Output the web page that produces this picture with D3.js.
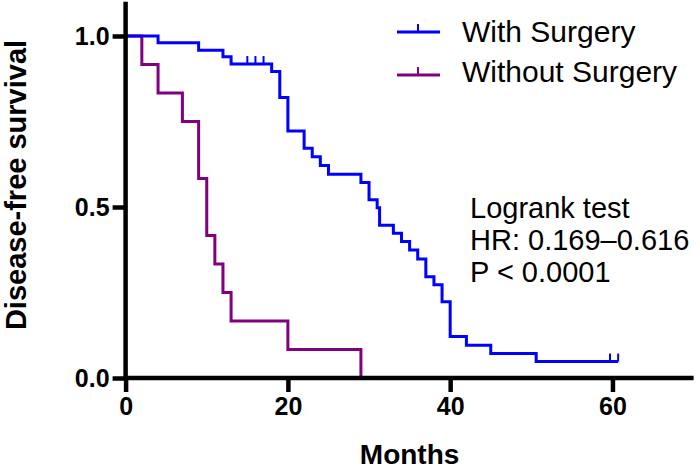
<!DOCTYPE html>
<html>
<head>
<meta charset="utf-8">
<script src="https://cdn.jsdelivr.net/npm/d3@7"></script>
<style>
  html, body { margin: 0; padding: 0; background: #fff; }
  svg { display: block; }
</style>
</head>
<body>
<svg id="chart" width="700" height="471"></svg>
<script>
// ---- data ----
const withTimes = [0, 4, 9, 12, 13, 18, 19, 20, 22, 23, 24, 25, 29, 30, 31, 31.3, 33, 34, 35, 36, 37, 38, 39, 40, 42, 45, 50.6, 60.7];
const withSurv  = [1, 0.98, 0.958, 0.939, 0.918, 0.896, 0.82, 0.722, 0.672, 0.647, 0.621, 0.596, 0.572, 0.521, 0.498, 0.447, 0.423, 0.399, 0.374, 0.348, 0.296, 0.273, 0.223, 0.121, 0.096, 0.072, 0.048, 0.048];
const withCensor = [15, 16, 17, 59.7, 60.7];
const withoutTimes = [0, 2, 4, 7, 9, 10, 11, 12, 13, 20, 29];
const withoutSurv  = [1, 0.917, 0.833, 0.75, 0.583, 0.417, 0.333, 0.25, 0.167, 0.083, 0];
const withoutCensor = [];
const xTicks = [0, 20, 40, 60];
const yTicks = [0, 0.5, 1.0];
const seriesNames = ["With Surgery", "Without Surgery"];
const statsLines = ["Logrank test", "HR: 0.169\u20130.616", "P < 0.0001"];
const xLabel = "Months";
const yLabel = "Disease-free survival";

const colors = ["#0000ff", "#800080"];

const svg = d3.select("#chart");
const x = d3.scaleLinear().domain([0, 70]).range([125.6, 693.6]);
const y = d3.scaleLinear().domain([0, 1]).range([378, 36]);

const boldFont = "'Liberation Sans', Arial, Helvetica, sans-serif";

function survAt(times, surv, t) {
  let v = surv[0];
  for (let i = 0; i < times.length; i++) if (times[i] <= t) v = surv[i];
  return v;
}
const series = [
  { times: withTimes, surv: withSurv, censor: withCensor, color: colors[0] },
  { times: withoutTimes, surv: withoutSurv, censor: withoutCensor, color: colors[1] }
];
const line = d3.line().x(d => x(d[0])).y(d => y(d[1])).curve(d3.curveStepAfter);

[series[1], series[0]].forEach(s => {
  const pts = s.times.map((t, i) => [t, s.surv[i]]);
  svg.append("path")
    .attr("d", line(pts))
    .attr("fill", "none")
    .attr("stroke", s.color)
    .attr("stroke-width", 3)
    .attr("stroke-linejoin", "miter");
  s.censor.forEach(t => {
    const v = survAt(s.times, s.surv, t);
    svg.append("line")
      .attr("x1", x(t)).attr("x2", x(t))
      .attr("y1", y(v)).attr("y2", y(v) - 8)
      .attr("stroke", s.color).attr("stroke-width", 2);
  });
});

// axes
const axisW = 4.5;
svg.append("line")
  .attr("x1", x(0)).attr("x2", x(0))
  .attr("y1", y(1.1)).attr("y2", y(0) + axisW / 2)
  .attr("stroke", "#000").attr("stroke-width", axisW);
svg.append("line")
  .attr("x1", x(0) - axisW / 2).attr("x2", x(70))
  .attr("y1", y(0)).attr("y2", y(0))
  .attr("stroke", "#000").attr("stroke-width", axisW);

const yAxis = d3.axisLeft(y).tickValues(yTicks).tickFormat(d3.format(".1f")).tickSize(13).tickPadding(3);
const gy = svg.append("g").attr("transform", `translate(${x(0)},0)`).call(yAxis);
gy.select(".domain").remove();
gy.selectAll(".tick line").attr("stroke", "#000").attr("stroke-width", axisW);
gy.selectAll(".tick text")
  .attr("fill", "#000")
  .style("font-family", boldFont).style("font-weight", "bold").style("font-size", "25px");

const xAxis = d3.axisBottom(x).tickValues(xTicks).tickFormat(d3.format("d")).tickSize(14).tickPadding(5);
const gx = svg.append("g").attr("transform", `translate(0,${y(0)})`).call(xAxis);
gx.select(".domain").remove();
gx.selectAll(".tick line").attr("stroke", "#000").attr("stroke-width", axisW);
gx.selectAll(".tick text")
  .attr("fill", "#000")
  .style("font-family", boldFont).style("font-weight", "bold").style("font-size", "25px");

// axis titles
svg.append("text")
  .attr("x", (x(0) + x(70)) / 2).attr("y", 464)
  .attr("text-anchor", "middle")
  .style("font-family", boldFont).style("font-weight", "bold").style("font-size", "28px")
  .text(xLabel);
svg.append("text")
  .attr("transform", `translate(26,${185}) rotate(-90)`)
  .attr("text-anchor", "middle")
  .style("font-family", boldFont).style("font-weight", "bold").style("font-size", "29px")
  .text(yLabel);

// legend
const legendY = [32, 75];
const legendTextY = [42, 82];
seriesNames.forEach((name, i) => {
  svg.append("line")
    .attr("x1", 397).attr("x2", 440)
    .attr("y1", legendY[i]).attr("y2", legendY[i])
    .attr("stroke", colors[i]).attr("stroke-width", 3);
  svg.append("line")
    .attr("x1", 418).attr("x2", 418)
    .attr("y1", legendY[i]).attr("y2", legendY[i] - 8)
    .attr("stroke", colors[i]).attr("stroke-width", 2);
  svg.append("text")
    .attr("x", 462).attr("y", legendTextY[i])
    .style("font-family", boldFont).style("font-size", "30px")
    .attr("fill", "#000")
    .text(name);
});

// stats text
statsLines.forEach((t, i) => {
  svg.append("text")
    .attr("x", 470).attr("y", 218 + i * 32)
    .style("font-family", boldFont).style("font-size", "29px")
    .attr("fill", "#000")
    .text(t);
});
</script>
</body>
</html>
